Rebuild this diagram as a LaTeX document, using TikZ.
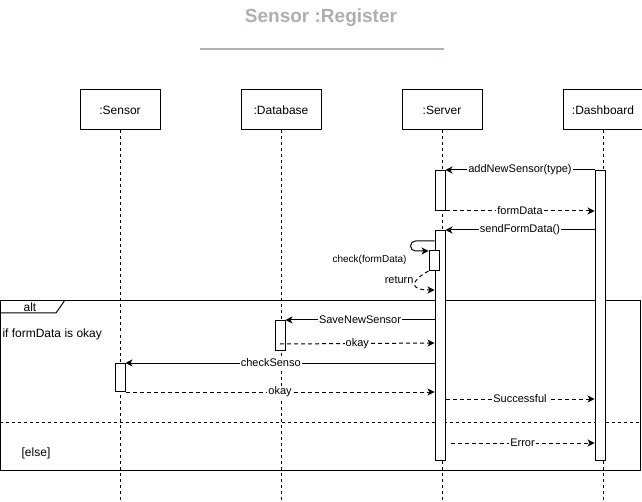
\documentclass[tikz,border=0pt]{standalone}
\usepackage{fontspec}
\setmainfont{Liberation Sans}
\usetikzlibrary{arrows.meta,positioning,calc}
\definecolor{titlegray}{HTML}{ABB0B8}
\tikzset{
	headbox/.style={rectangle, draw, minimum width=80pt, minimum height=40pt,
		font=\fontsize{12}{14}\selectfont, inner sep=0pt},
	actbox/.style={rectangle, draw, fill=white, minimum width=10pt, inner sep=0pt},
	lifeline/.style={dash pattern=on 3pt off 3pt},
	msgarr/.style={-{Stealth[length=7pt,width=7pt,inset=2pt]}},
	retarr/.style={msgarr, dash pattern=on 4pt off 3pt},
	msglbl/.style={fill=white, inner sep=1pt, font=\fontsize{11}{13}\selectfont},
	framelbl/.style={inner sep=0pt, font=\fontsize{12}{14}\selectfont}
}
\begin{document}
\begin{tikzpicture}[x=1pt, y=-1pt, line width=1pt, node distance=80pt]
	\useasboundingbox (0,0) rectangle (642,502);
	\node[font=\bfseries\fontsize{19}{22}\selectfont, text=titlegray] (title) at (321,18) {Sensor :Register};
	\draw[titlegray, line width=1.2pt] (200,49) -- (444,49);
	\node[draw, anchor=north west, minimum width=640pt, minimum height=170pt, inner sep=0pt] (altframe) at (0,300) {};
	\draw (altframe.north west) ++(0,13) -- ++(56,0) -- ++(9,-13);
	\node[framelbl] (altlbl) at (30,307) {alt};
	\node[framelbl, anchor=west] (condlbl) at (2,334) {if formData is okay};
	\draw[lifeline] ($(altframe.north west)+(0,122)$) -- ($(altframe.north east)+(0,122)$);
	\node[framelbl] (elselbl) at (36,453) {[else]};
	\node[headbox] (sensor) at (120,110) {:Sensor};
	\node[headbox, right=of sensor] (database) {:Database};
	\node[headbox, right=of database] (server) {:Server};
	\node[headbox, right=of server] (dashboard) {:Dashboard};
	\coordinate (bottom) at (0,500);
	\draw[lifeline] (sensor) -- (sensor |- bottom);
	\draw[lifeline] (database) -- (database |- bottom);
	\draw[lifeline] (server) -- (server |- bottom);
	\draw[lifeline] (dashboard) -- (dashboard |- bottom);
	\node[actbox, minimum height=290pt, anchor=north] (dashAct) at (600,170) {};
	\node[actbox, minimum height=40pt, anchor=north] (srvActA) at (440,170) {};
	\node[actbox, minimum height=230pt, anchor=north] (srvActB) at (440,230) {};
	\node[actbox, minimum height=20pt, anchor=north] (selfAct) at (434,250) {};
	\node[actbox, minimum height=30pt, anchor=north] (dbAct) at (280,320) {};
	\node[actbox, minimum height=28pt, anchor=north] (sensAct) at (120,363) {};
	\draw[msgarr] (dashAct.north west) -- node[msglbl] {addNewSensor(type)} (srvActA.north east);
	\draw[retarr] (srvActA.south east) -- node[msglbl] {formData} (srvActA.south east -| dashAct.west);
	\draw[msgarr] (srvActB.north east -| dashAct.west) -- node[msglbl] {sendFormData()} (srvActB.north east);
	\draw[msgarr, rounded corners=5pt] ($(srvActB.north west)+(0,11)$) -- ++(-24,0) -- ++(0,10) -- ($(selfAct.north west)+(0,1)$);
	\node[inner sep=0pt, anchor=east, font=\fontsize{10}{12}\selectfont] (checklbl) at (407,260) {check(formData)};
	\draw[retarr] (selfAct.south west) .. controls +(-18,10) and +(-26,0) .. ($(srvActB.north west)+(0,60)$);
	\node[inner sep=0pt, anchor=east, font=\fontsize{11}{13}\selectfont] (retlbl) at (414,280) {return};
	\draw[msgarr] (srvActB.west |- dbAct.north) -- node[msglbl] {SaveNewSensor} (dbAct.north east);
	\draw[retarr] ($(dbAct.south)+(0,-7)$) -- node[msglbl] {okay} (srvActB.west |- 0,343);
	\draw[msgarr] (srvActB.west |- sensAct.north) -- node[msglbl, pos=0.53] {checkSenso} (sensAct.north east);
	\draw[retarr] (sensAct.south east) -- node[msglbl] {okay} (srvActB.west |- sensAct.south);
	\draw[retarr] (srvActB.east |- 0,399) -- node[msglbl] {Successful} (dashAct.west |- 0,399);
	\draw[retarr] ($(srvActB.east |- 0,443)+(5,0)$) -- node[msglbl] {Error} (dashAct.west |- 0,443);
\end{tikzpicture}
\end{document}
